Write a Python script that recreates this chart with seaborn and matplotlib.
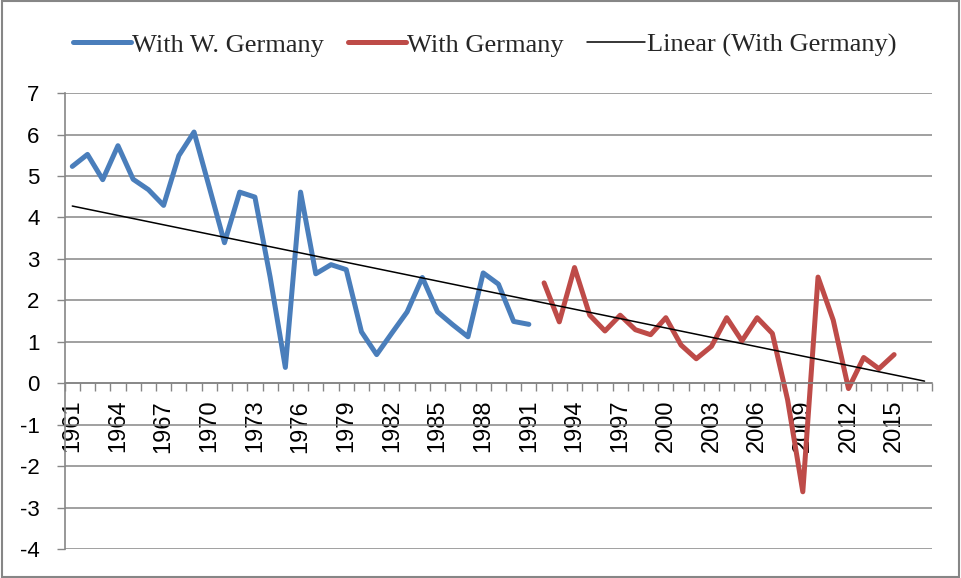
import matplotlib
matplotlib.use('Agg')
import matplotlib.pyplot as plt
import matplotlib.patches as mpatches
from matplotlib.lines import Line2D
import numpy as np
import pandas as pd
import seaborn as sns

# values
years_w = list(range(1961, 1992))
w_germany = [5.23, 5.52, 4.91, 5.73, 4.92, 4.67, 4.29, 5.49, 6.06, 4.73,
             3.39, 4.61, 4.49, 2.56, 0.38, 4.61, 2.64, 2.86, 2.74, 1.24,
             0.69, 1.21, 1.72, 2.55, 1.72, 1.41, 1.12, 2.66, 2.39, 1.49,
             1.42]
years_g = list(range(1992, 2016))
germany = [2.42, 1.48, 2.79, 1.64, 1.26, 1.64, 1.29, 1.17, 1.58, 0.92,
           0.59, 0.89, 1.58, 1.02, 1.58, 1.20, -0.40, -2.62, 2.56, 1.52,
           -0.13, 0.62, 0.35, 0.69]
first_year, last_year = 1961, 2017
y_ticks = list(range(-4, 8))
x_labels = list(range(1961, 2016, 3))

blue = '#4A7EBB'
red = '#BE4B48'
grey = '#868686'

df_w = pd.DataFrame({'year': years_w, 'value': w_germany})
df_g = pd.DataFrame({'year': years_g, 'value': germany})

# linear trend of the "With Germany" series, drawn across the whole category range
slope, icpt = np.polyfit(years_g, germany, 1)
trend_x = np.array([first_year, last_year])
df_t = pd.DataFrame({'year': trend_x, 'value': slope * trend_x + icpt})

sns.set_theme(style='white')
plt.rcParams['font.family'] = ['Liberation Sans', 'DejaVu Sans']

fig = plt.figure(figsize=(9.61, 5.78), dpi=100)
ax = fig.add_axes([0.0673, 0.0502, 0.9027, 0.7888])

sns.lineplot(data=df_w, x='year', y='value', ax=ax, color=blue, lw=3.6)
sns.lineplot(data=df_g, x='year', y='value', ax=ax, color=red, lw=3.6)
sns.lineplot(data=df_t, x='year', y='value', ax=ax, color='black', lw=1.1)

# spines first (moving a spine resets the ticks)
ax.spines['bottom'].set_position(('data', 0))
ax.spines['bottom'].set_color(grey)
ax.spines['left'].set_color(grey)
ax.spines['left'].set_linewidth(1.2)
ax.spines['bottom'].set_linewidth(1.2)
ax.spines['top'].set_visible(False)
ax.spines['right'].set_visible(False)

ax.set_xlim(first_year - 0.5, last_year + 0.5)
ax.set_ylim(-4, 7)
ax.set_xlabel('')
ax.set_ylabel('')

ax.set_yticks(y_ticks)
ax.set_yticklabels([str(v) for v in y_ticks])
ax.yaxis.grid(True, color=grey, lw=1.1)
ax.xaxis.grid(False)
ax.tick_params(axis='y', direction='out', length=6, width=1, color=grey, pad=12,
               left=True, labelsize=16, labelcolor='black')

# category boundaries as major ticks, year labels as minor ticks
ax.set_xticks(np.arange(first_year - 0.5, last_year + 1, 1))
ax.set_xticklabels([])
ax.set_xticks(x_labels, minor=True)
ax.set_xticklabels([str(v) for v in x_labels], minor=True)
ax.tick_params(axis='x', which='major', direction='out', length=6, width=1,
               color=grey, bottom=True)
ax.tick_params(axis='x', which='minor', length=0, pad=12, bottom=True,
               labelsize=17, labelrotation=90, labelcolor='black')
for lab in ax.get_xticklabels(minor=True):
    lab.set_verticalalignment('top')

handles = [Line2D([], [], color=blue, lw=3.6),
           Line2D([], [], color=red, lw=3.6),
           Line2D([], [], color='black', lw=1.1)]
labels = ['With W. Germany', 'With Germany', 'Linear (With Germany)']
fig.legend(handles, labels, loc='center', bbox_to_anchor=(0.504, 0.922), ncol=3,
           frameon=False, prop={'family': 'Liberation Serif', 'size': 19},
           handlelength=2.2, handletextpad=0.05, columnspacing=0.9)

fig.add_artist(mpatches.Rectangle((0.002, 0.002), 0.996, 0.996,
                                  transform=fig.transFigure, fill=False,
                                  edgecolor=grey, lw=1.5))

fig.savefig('out.png', dpi=100)
